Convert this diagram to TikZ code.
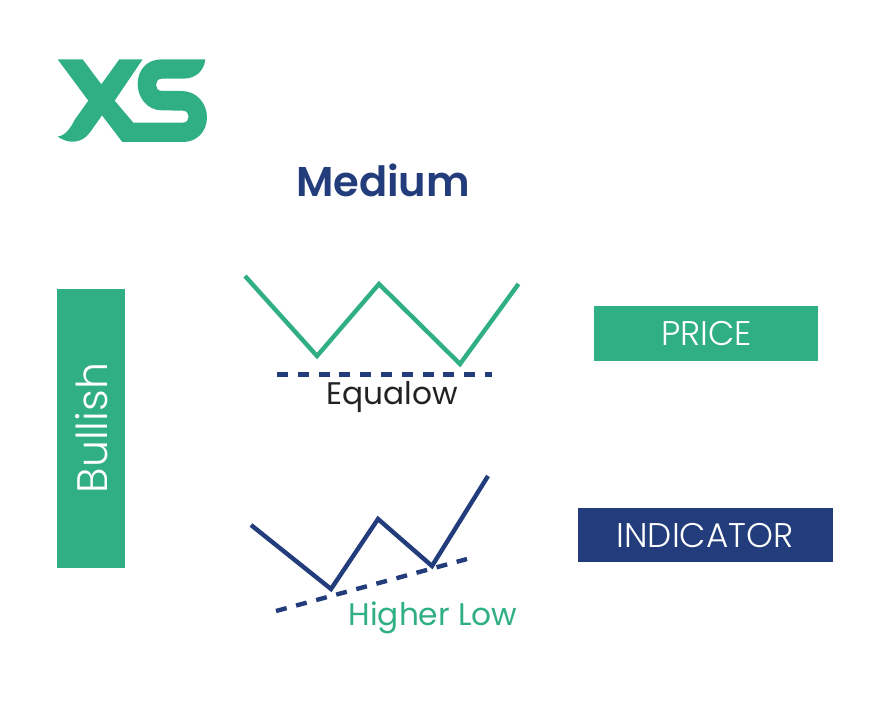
\documentclass[tikz,border=0pt]{standalone}
\usepackage{fontspec}
\setmainfont{Poppins}
\newfontfamily\poplight{Poppins Light}
\newfontfamily\popsemi{Poppins SemiBold}
\definecolor{xsgreen}{HTML}{31AF84}
\definecolor{xsnavy}{HTML}{233C7B}
\definecolor{inkdark}{HTML}{222222}
\tikzset{
  chartline/.style={line width=4.4pt,line join=miter},
  dashline/.style={line width=4.4pt,xsnavy,dash pattern=on 11pt off 9.8pt},
  tagbox/.style={inner sep=0pt,anchor=center},
  tagtext/.style={inner sep=0pt,text=white,font=\poplight\fontsize{34.2}{34}\selectfont,anchor=center},
  caption/.style={inner sep=0pt,font=\fontsize{31.2}{32}\selectfont,anchor=center}
}
\begin{document}
\begin{tikzpicture}[x=1pt,y=-1pt]
\useasboundingbox (0,0) rectangle (888,704);
\begin{scope}[shift={(40,40)},x=0.3333pt,y=-0.3333pt]
\fill[xsgreen] (53,58) -- (128,58) -- (184,133) -- (238,58) -- (308,58)
  -- (224,182) -- (280,248) -- (428,248) .. controls (452,248) and (452,212) .. (428,212)
  -- (365,211) .. controls (320,211) and (293,170) .. (293,133)
  .. controls (293,90) and (320,58) .. (365,58) -- (496,58)
  .. controls (492,95) and (465,116) .. (430,116) -- (366,116)
  .. controls (342,116) and (342,153) .. (366,153) -- (425,153)
  .. controls (470,153) and (501,190) .. (501,232)
  .. controls (501,275) and (470,306) .. (430,306) -- (247,306)
  -- (186,226) -- (150,277) .. controls (125,312) and (85,312) .. (53,290)
  .. controls (80,285) and (92,262) .. (105,238) -- (145,182) -- cycle;
\end{scope}
\node[inner sep=0pt,text=xsnavy,font=\popsemi\fontsize{41.6}{41}\selectfont] (title) at (383,180) {Medium};
\node[tagbox,fill=xsgreen,minimum width=68pt,minimum height=279pt] (side) at (91,428) {};
\node[text=white,inner sep=0pt,rotate=90,font=\poplight\fontsize{42.6}{42}\selectfont] (sidetext) at (91.5,428) {Bullish};
\node[tagbox,fill=xsgreen,minimum width=224pt,minimum height=55pt] (price) at (706.3,333.5) {};
\node[tagtext] (pricetext) at (706.5,333.5) {PRICE};
\node[tagbox,fill=xsnavy,minimum width=255pt,minimum height=54pt] (indicator) at (705,535) {};
\node[tagtext] (indicatortext) at (705,536) {INDICATOR};
\draw[chartline,xsgreen] (245,276) -- (317,356) -- (379,284) -- (460,364) -- (518.5,284);
\draw[dashline] (277,374.5) -- (492,374.5);
\node[caption,text=inkdark] (eq) at (392,397) {Equalow};
\draw[chartline,xsnavy] (251,525) -- (331,589) -- (378,519) -- (432,566) -- (488,476);
\draw[dashline] (276,611) -- (467,559);
\node[caption,text=xsgreen] (hl) at (433,618) {Higher Low};
\end{tikzpicture}
\end{document}
